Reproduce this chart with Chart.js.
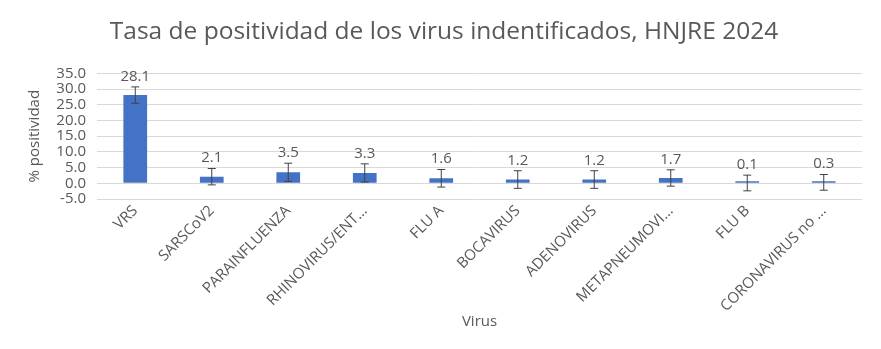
<!DOCTYPE html>
<html>
<head>
<meta charset="utf-8">
<script src="https://cdn.jsdelivr.net/npm/chart.js@4.4.1/dist/chart.umd.min.js"></script>
<style>
  html, body { margin: 0; padding: 0; background: #fff; }
  #wrap { width: 881px; height: 349px; position: relative; }
</style>
</head>
<body>
<div id="wrap"><canvas id="c"></canvas></div>
<script>
// Tasa de positividad por virus, HNJRE 2024
const categories = ['VRS', 'SARSCoV2', 'PARAINFLUENZA', 'RHINOVIRUS/ENT...', 'FLU A', 'BOCAVIRUS', 'ADENOVIRUS', 'METAPNEUMOVI...', 'FLU B', 'CORONAVIRUS no ...'];
const positividad = [28.1, 2.1, 3.5, 3.3, 1.6, 1.2, 1.2, 1.7, 0.1, 0.3];
const errores = [2.6, 2.6, 2.9, 2.9, 2.8, 2.8, 2.8, 2.6, 2.5, 2.5];

const TEXT = '#595959';
const FONT = '"Open Sans", sans-serif';

// error bars + value labels drawn on top of the bars
const errorBars = {
  id: 'errorBars',
  afterDatasetsDraw(chart) {
    const ctx = chart.ctx;
    const y = chart.scales.y;
    const meta = chart.getDatasetMeta(0);
    ctx.save();
    meta.data.forEach((bar, i) => {
      const v = positividad[i], e = errores[i];
      const yt = y.getPixelForValue(v + e);
      const yb = y.getPixelForValue(v - e);
      ctx.strokeStyle = '#404040';
      ctx.lineWidth = 1;
      ctx.beginPath();
      ctx.moveTo(bar.x, yt); ctx.lineTo(bar.x, yb);
      ctx.moveTo(bar.x - 4, yt); ctx.lineTo(bar.x + 4, yt);
      ctx.moveTo(bar.x - 4, yb); ctx.lineTo(bar.x + 4, yb);
      ctx.stroke();
      ctx.fillStyle = TEXT;
      ctx.font = '15px ' + FONT;
      ctx.textAlign = 'center';
      ctx.textBaseline = 'bottom';
      ctx.fillText(v.toFixed(1), bar.x, yt - 3);
    });
    ctx.restore();
  },
};

new Chart(document.getElementById('c'), {
  type: 'bar',
  data: {
    labels: categories,
    datasets: [{
      label: '% positividad',
      data: positividad,
      backgroundColor: '#4472C4',
      borderWidth: 0,
      barPercentage: 0.62,
      categoryPercentage: 0.5,
      minBarLength: 2,
    }],
  },
  options: {
    responsive: true,
    maintainAspectRatio: false,
    animation: false,
    layout: { padding: { left: 26, right: 19, top: 0, bottom: 18 } },
    plugins: {
      legend: { display: false },
      tooltip: { enabled: false },
      title: {
        display: true,
        text: 'Tasa de positividad de los virus indentificados, HNJRE 2024',
        color: TEXT,
        font: { family: FONT, size: 24.5, weight: 'normal' },
        padding: { top: 17, bottom: 27 },
      },
    },
    scales: {
      x: {
        grid: { display: false },
        border: { display: false },
        ticks: { color: TEXT, font: { family: FONT, size: 15 }, maxRotation: 45, minRotation: 45, autoSkip: false, padding: -5 },
        title: { display: true, text: 'Virus', color: TEXT, font: { family: FONT, size: 15 }, padding: { top: 0, bottom: 0 } },
        afterFit: (s) => { s.height = 132; },
      },
      y: {
        min: -5, max: 35,
        grid: { color: '#d9d9d9', drawTicks: false },
        border: { display: false },
        ticks: { color: TEXT, stepSize: 5, padding: 11, autoSkip: false, font: { family: FONT, size: 15 }, callback: (v) => v.toFixed(1) },
        title: { display: true, text: '% positividad', color: TEXT, font: { family: FONT, size: 15 }, padding: 0 },
        afterFit: (s) => { s.width = 71; },
      },
    },
  },
  plugins: [errorBars],
});
</script>
</body>
</html>
